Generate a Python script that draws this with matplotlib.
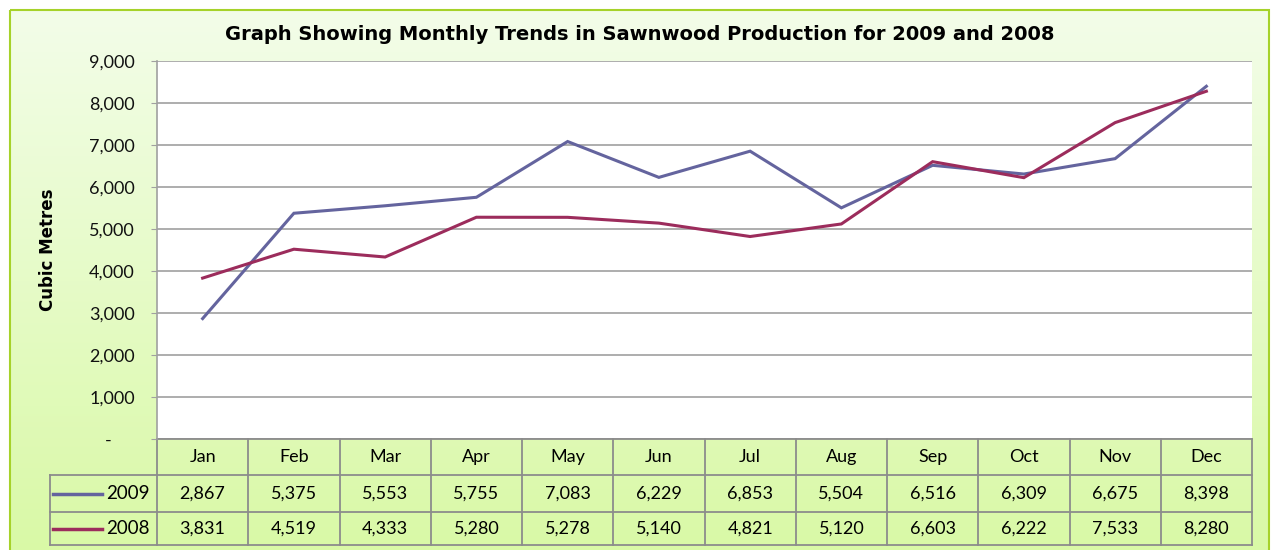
import numpy as np
import matplotlib.pyplot as plt
from matplotlib.colors import LinearSegmentedColormap
from matplotlib.patches import Rectangle
from matplotlib.transforms import blended_transform_factory

plt.rcParams['font.family'] = ['Lato', 'DejaVu Sans']

months = ['Jan', 'Feb', 'Mar', 'Apr', 'May', 'Jun',
          'Jul', 'Aug', 'Sep', 'Oct', 'Nov', 'Dec']
prod_2009 = [2867, 5375, 5553, 5755, 7083, 6229, 6853, 5504, 6516, 6309, 6675, 8398]
prod_2008 = [3831, 4519, 4333, 5280, 5278, 5140, 4821, 5120, 6603, 6222, 7533, 8280]
yticks = [0, 1000, 2000, 3000, 4000, 5000, 6000, 7000, 8000, 9000]

c09 = '#64649E'
c08 = '#9C2C5C'
grid_c = '#A0A0A0'
tab_c = '#8C8C8C'

W, H = 1271, 550
fig = plt.figure(figsize=(W / 100, H / 100), dpi=100)

# gradient chart background with green frame
bg = fig.add_axes([0, 0, 1, 1], zorder=0)
bg.set_xlim(0, W)
bg.set_ylim(H, 0)
bg.axis('off')
grad = np.linspace(0, 1, 256)[:, None]
cmap = LinearSegmentedColormap.from_list('g', ['#F3FDE9', '#D9F9A6'])
bg.imshow(grad, extent=(10, 1270, 552, 10), cmap=cmap, aspect='auto')
bg.add_patch(Rectangle((10, 10), 1259, 545, fill=False, ec='#A6D22A', lw=1.5))

# plot area
left, right, top, bottom = 157, 1252, 61, 439
ax = fig.add_axes([left / W, 1 - bottom / H, (right - left) / W, (bottom - top) / H], zorder=1)
ax.set_facecolor('white')
x = np.arange(len(months))
ax.plot(x, prod_2009, color=c09, lw=2.2, solid_joinstyle='miter', zorder=3)
ax.plot(x, prod_2008, color=c08, lw=2.2, solid_joinstyle='miter', zorder=3)
ax.set_xlim(-0.5, len(months) - 0.5)
ax.set_ylim(0, 9000)
ax.set_yticks(yticks)
ax.set_yticklabels(['-     '] + [f'{v:,}' for v in yticks[1:]], fontsize=13)
ax.set_xticks([])
ax.yaxis.grid(True, color=grid_c, lw=1.2)
ax.set_axisbelow(True)
ax.tick_params(axis='y', length=4, color=grid_c, pad=12, labelcolor='#111111')
for s in ['top', 'right', 'bottom']:
    ax.spines[s].set_visible(False)
ax.spines['left'].set_color(grid_c)
ax.spines['left'].set_linewidth(1.2)
ax.set_ylabel('Cubic Metres', fontsize=12, fontweight='bold', family='DejaVu Sans')
ax.yaxis.set_label_coords((57 - left) / (right - left), 0.5)

fig.text(0.503, 1 - 34 / H, 'Graph Showing Monthly Trends in Sawnwood Production for 2009 and 2008',
         ha='center', va='center', fontsize=14, fontweight='bold', family='DejaVu Sans')

# data table beneath the axis
tr = blended_transform_factory(ax.transData, ax.transAxes)
ph = bottom - top
ppu = (right - left) / len(months)
def ry(py):
    return -(py - bottom) / ph
def dx(px):
    return (px - left) / ppu - 0.5

y_rows = [ry(439), ry(475), ry(512), ry(545)]
x_lab = dx(50)
xe = len(months) - 0.5
lk = dict(color=tab_c, lw=1.3, transform=tr, clip_on=False)
ax.plot([-0.5, xe], [y_rows[0]] * 2, **lk)
for yy in y_rows[1:]:
    ax.plot([x_lab, xe], [yy] * 2, **lk)
for b in np.arange(-0.5, len(months), 1.0):
    ax.plot([b, b], [y_rows[0], y_rows[3]], **lk)
ax.plot([x_lab, x_lab], [y_rows[1], y_rows[3]], **lk)

yc = [(y_rows[i] + y_rows[i + 1]) / 2 for i in range(3)]
for i, m in enumerate(months):
    ax.text(i, yc[0], m, ha='center', va='center', fontsize=13, transform=tr)
    ax.text(i, yc[1], f'{prod_2009[i]:,}', ha='center', va='center', fontsize=13, transform=tr)
    ax.text(i, yc[2], f'{prod_2008[i]:,}', ha='center', va='center', fontsize=13, transform=tr)

for row, lab, col in [(1, '2009', c09), (2, '2008', c08)]:
    ax.plot([dx(53), dx(102)], [yc[row]] * 2, color=col, lw=2.5, transform=tr, clip_on=False)
    ax.text(dx(150), yc[row], lab, ha='right', va='center', fontsize=13.5, transform=tr)

fig.savefig('out.png', dpi=100)
